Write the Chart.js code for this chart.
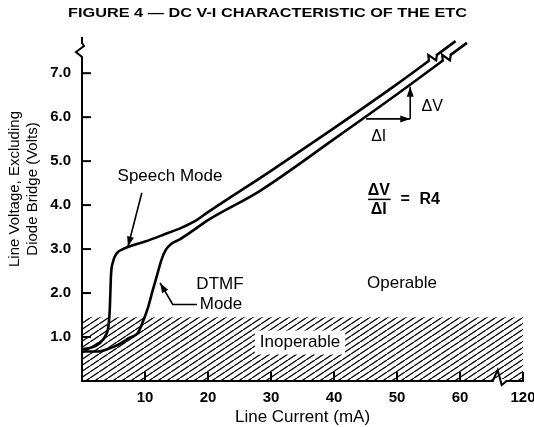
<!DOCTYPE html>
<html>
<head>
<meta charset="utf-8">
<script src="https://cdn.jsdelivr.net/npm/chart.js@4.4.0/dist/chart.umd.min.js"></script>
<style>
  html, body { margin: 0; padding: 0; background: #fff; }
  #wrap { width: 534px; height: 427px; position: relative; }
</style>
</head>
<body>
<div id="wrap"><canvas id="chart"></canvas></div>
<script>
// ──────────────────────────────────────────────
// Data (mA / Volts)
// ──────────────────────────────────────────────
const speechCurrent = [0, 1.5, 2.8, 3.7, 4.2, 4.4, 4.5, 4.6, 4.9, 5.5, 6.5, 7.5, 10, 13, 16, 18.2, 20, 30, 40, 50, 59.3];
const speechVoltage = [0.72, 0.76, 0.86, 1.02, 1.25, 1.6, 2.0, 2.4, 2.7, 2.9, 3.0, 3.06, 3.17, 3.33, 3.5, 3.66, 3.84, 4.78, 5.75, 6.75, 7.73];

const dtmfCurrent = [0, 2.5, 4, 5.7, 7.5, 8.9, 9.8, 10.5, 11.2, 11.9, 12.6, 13.3, 14.2, 15.5, 17.6, 20, 28.2, 40, 50, 61.1];
const dtmfVoltage = [0.67, 0.67, 0.72, 0.82, 0.98, 1.1, 1.4, 1.68, 2.05, 2.4, 2.75, 2.98, 3.12, 3.22, 3.42, 3.66, 4.32, 5.5, 6.52, 7.69];

// where each curve carries its "break" mark (mA)
const speechBreakAt = 55.7;
const dtmfBreakAt = 57.9;

const inoperableCurrent = [0, 70];
const inoperableVoltage = [1.45, 1.45];

const xTickValues = [10, 20, 30, 40, 50, 60, 70];
const xTickLabels = ['10', '20', '30', '40', '50', '60', '120'];
const yTickValues = [1, 2, 3, 4, 5, 6, 7];
const yTickLabels = ['1.0', '2.0', '3.0', '4.0', '5.0', '6.0', '7.0'];

const FONT = '"Liberation Sans", Arial, Helvetica, sans-serif';
Chart.defaults.font.family = FONT;
Chart.defaults.color = '#000';

function toPoints(xs, ys) {
    return xs.map((x, i) => ({ x, y: ys[i] }));
}

function interp(xs, ys, x) {
    for (let i = 1; i < xs.length; i++) {
        if (x <= xs[i]) {
            const t = (x - xs[i - 1]) / (xs[i] - xs[i - 1]);
            return ys[i - 1] + t * (ys[i] - ys[i - 1]);
        }
    }
    return ys[ys.length - 1];
}

function hatchPattern() {
    const c = document.createElement('canvas');
    c.width = 9; c.height = 6;
    const g = c.getContext('2d');
    g.strokeStyle = '#000';
    g.lineWidth = 1.3;
    [-9, 0, 9].forEach(dx => {
        g.beginPath(); g.moveTo(dx, 6); g.lineTo(dx + 9, 0); g.stroke();
    });
    return g.createPattern(c, 'repeat');
}

// ──────────────────────────────────────────────
// Drawing helpers
// ──────────────────────────────────────────────
function polyline(ctx, pts) {
    ctx.beginPath();
    pts.forEach((p, i) => i ? ctx.lineTo(p[0], p[1]) : ctx.moveTo(p[0], p[1]));
    ctx.stroke();
}

function arrow(ctx, pts) {
    polyline(ctx, pts);
    const [x1, y1] = pts[pts.length - 2];
    const [x2, y2] = pts[pts.length - 1];
    const a = Math.atan2(y2 - y1, x2 - x1);
    const len = 10, hw = 3.5;
    ctx.beginPath();
    ctx.moveTo(x2, y2);
    ctx.lineTo(x2 - len * Math.cos(a) + hw * Math.sin(a), y2 - len * Math.sin(a) - hw * Math.cos(a));
    ctx.lineTo(x2 - len * Math.cos(a) - hw * Math.sin(a), y2 - len * Math.sin(a) + hw * Math.cos(a));
    ctx.closePath();
    ctx.fill();
}

function text(ctx, str, x, y, font) {
    ctx.font = font;
    ctx.fillText(str, x, y);
}

// zigzag break drawn across a curve at current c
function curveBreak(ctx, xs, ys, c, x, y) {
    const p = [x.getPixelForValue(c), y.getPixelForValue(interp(xs, ys, c))];
    const q = [x.getPixelForValue(c + 1), y.getPixelForValue(interp(xs, ys, c + 1))];
    const L = Math.hypot(q[0] - p[0], q[1] - p[1]);
    const u = [(q[0] - p[0]) / L, (q[1] - p[1]) / L];
    const n = [u[1], -u[0]];
    const at = (a, b) => [p[0] + a * u[0] + b * n[0], p[1] + a * u[1] + b * n[1]];
    ctx.save();
    ctx.fillStyle = '#fff';
    ctx.beginPath();
    [at(-4, -2.5), at(4, -2.5), at(4, 2.5), at(-4, 2.5)].forEach((v, i) => i ? ctx.lineTo(...v) : ctx.moveTo(...v));
    ctx.closePath();
    ctx.fill();
    ctx.lineWidth = 2.2;
    ctx.lineJoin = 'miter';
    polyline(ctx, [at(-5, 0), at(-2, 5), at(1, -4), at(5, 0)]);
    ctx.restore();
}

// ──────────────────────────────────────────────
// Plugin: title, inward ticks, axis breaks, labels
// ──────────────────────────────────────────────
const figureDecor = {
    id: 'figureDecor',
    afterDraw(chart) {
        const { ctx, chartArea: a, scales: { x, y } } = chart;
        const P = (i, v) => [x.getPixelForValue(i), y.getPixelForValue(v)];
        ctx.save();
        ctx.fillStyle = '#000';
        ctx.strokeStyle = '#000';
        ctx.lineCap = 'butt';

        // title, stretched like the wide typeface of the original
        ctx.font = 'bold 12.5px ' + FONT;
        ctx.textBaseline = 'middle';
        ctx.textAlign = 'left';
        const title = 'FIGURE 4 — DC V-I CHARACTERISTIC OF THE ETC';
        const w = ctx.measureText(title).width;
        ctx.save();
        ctx.translate(68, 14);
        ctx.scale(399 / w, 1);
        ctx.fillText(title, 0, 0);
        ctx.restore();

        // y axis title (two lines)
        ctx.save();
        ctx.textAlign = 'center';
        ctx.font = '15px ' + FONT;
        ctx.translate(15, 189);
        ctx.rotate(-Math.PI / 2);
        ctx.fillText('Line Voltage, Excluding', 0, 0);
        ctx.fillText('Diode Bridge (Volts)', 0, 18);
        ctx.restore();

        // ticks pointing into the plot
        ctx.lineWidth = 2;
        yTickValues.forEach(v => {
            const py = y.getPixelForValue(v);
            polyline(ctx, [[a.left, py], [a.left + 9, py]]);
        });
        xTickValues.forEach(v => {
            const px = x.getPixelForValue(v);
            polyline(ctx, [[px, a.bottom], [px, a.bottom - 9]]);
        });

        // axis breaks
        ctx.fillStyle = '#fff';
        ctx.fillRect(a.left - 3, a.top + 6, 6, 13);
        ctx.lineWidth = 2;
        polyline(ctx, [[a.left, a.top + 5], [a.left + 2, a.top + 8], [a.left - 6, a.top + 14], [a.left, a.top + 19], [a.left, a.top + 21]]);
        const bx = x.getPixelForValue(66.3);
        ctx.fillRect(bx - 6, a.bottom - 2, 12, 4);
        polyline(ctx, [[bx - 7, a.bottom], [bx - 2, a.bottom - 11], [bx + 2, a.bottom + 4], [bx + 7, a.bottom]]);
        ctx.fillStyle = '#000';

        // curve breaks
        curveBreak(ctx, speechCurrent, speechVoltage, speechBreakAt, x, y);
        curveBreak(ctx, dtmfCurrent, dtmfVoltage, dtmfBreakAt, x, y);

        // arrows
        ctx.lineWidth = 1.6;
        arrow(ctx, [P(9.5, 4.28), P(7.3, 3.06)]);
        arrow(ctx, [P(18.25, 1.74), P(14.4, 1.74), P(12.4, 2.23)]);
        arrow(ctx, [P(45.1, 5.96), P(52.1, 5.96)]);
        arrow(ctx, [P(52.1, 5.96), P(52.1, 6.69)]);

        // labels
        ctx.textAlign = 'center';
        ctx.textBaseline = 'middle';
        const reg = '17px ' + FONT;
        text(ctx, 'Speech Mode', ...P(13.97, 4.65), reg);
        text(ctx, 'DTMF', ...P(21.9, 2.19), reg);
        text(ctx, 'Mode', ...P(22.06, 1.74), reg);
        text(ctx, 'Operable', ...P(50.8, 2.22), reg);
        text(ctx, 'ΔV', ...P(55.6, 6.24), '16px ' + FONT);
        text(ctx, 'ΔI', ...P(47.1, 5.56), '16px ' + FONT);

        // ΔV / ΔI = R4
        const bold = 'bold 16px ' + FONT;
        text(ctx, 'ΔV', ...P(47.1, 4.33), bold);
        text(ctx, 'ΔI', ...P(47.1, 3.9), bold);
        ctx.lineWidth = 1.5;
        polyline(ctx, [P(45.4, 4.13), P(49.0, 4.13)]);
        text(ctx, '=', ...P(51.3, 4.13), bold);
        text(ctx, 'R4', ...P(55.2, 4.13), bold);

        // Inoperable on a white patch
        ctx.font = reg;
        const [ix, iy] = P(34.6, 0.875);
        const iw = ctx.measureText('Inoperable').width;
        ctx.fillStyle = '#fff';
        ctx.fillRect(ix - iw / 2 - 5, iy - 12, iw + 10, 24);
        ctx.fillStyle = '#000';
        ctx.fillText('Inoperable', ix, iy);

        ctx.restore();
    }
};

// ──────────────────────────────────────────────
// Chart
// ──────────────────────────────────────────────
const curveStyle = {
    borderColor: '#000', borderWidth: 2.6, pointRadius: 0,
    fill: false, cubicInterpolationMode: 'monotone', order: 1
};

new Chart(document.getElementById('chart'), {
    type: 'line',
    data: {
        datasets: [
            { label: 'Speech Mode', data: toPoints(speechCurrent, speechVoltage), ...curveStyle },
            { label: 'DTMF Mode', data: toPoints(dtmfCurrent, dtmfVoltage), ...curveStyle },
            {
                label: 'Inoperable', data: toPoints(inoperableCurrent, inoperableVoltage),
                borderWidth: 0, pointRadius: 0, fill: 'origin',
                backgroundColor: hatchPattern(), order: 3
            }
        ]
    },
    options: {
        responsive: true,
        maintainAspectRatio: false,
        animation: false,
        layout: { padding: { left: 0, right: 11, top: 38, bottom: 0 } },
        plugins: { legend: { display: false }, tooltip: { enabled: false } },
        scales: {
            x: {
                type: 'linear', min: 0, max: 70,
                afterBuildTicks: s => { s.ticks = xTickValues.map(v => ({ value: v })); },
                afterFit: s => { s.height = 46; s.paddingLeft = 0; s.paddingRight = 0; },
                grid: { display: false, drawTicks: false },
                border: { display: true, color: '#000', width: 2 },
                ticks: {
                    padding: 8, maxRotation: 0, autoSkip: false,
                    font: { size: 15, weight: 'bold' },
                    callback: v => xTickLabels[xTickValues.indexOf(v)]
                },
                title: {
                    display: true, text: 'Line Current (mA)',
                    font: { size: 17, lineHeight: 1 }, padding: { top: 0, bottom: 1 }
                }
            },
            y: {
                type: 'linear', min: 0, max: 7.8,
                afterBuildTicks: s => { s.ticks = yTickValues.map(v => ({ value: v })); },
                afterFit: s => { s.width = 82; },
                grid: { display: false, drawTicks: false },
                border: { display: true, color: '#000', width: 2 },
                ticks: {
                    padding: 11, autoSkip: false,
                    font: { size: 15, weight: 'bold' },
                    callback: v => yTickLabels[yTickValues.indexOf(v)]
                },
                title: { display: false }
            }
        }
    },
    plugins: [figureDecor]
});
</script>
</body>
</html>
